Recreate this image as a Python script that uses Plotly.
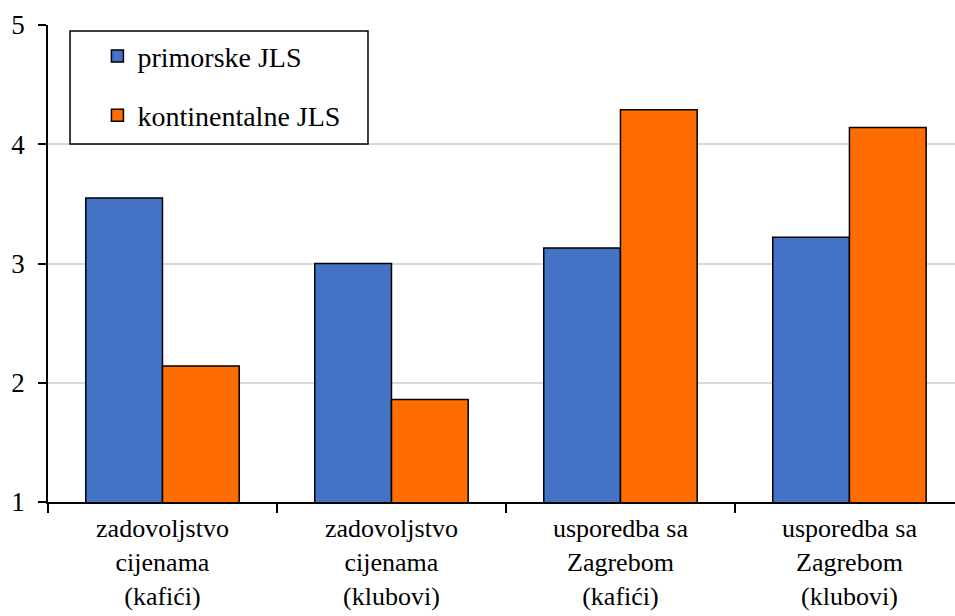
import plotly.graph_objects as go

categories = [
    "zadovoljstvo<br>cijenama<br>(kafići)",
    "zadovoljstvo<br>cijenama<br>(klubovi)",
    "usporedba sa<br>Zagrebom<br>(kafići)",
    "usporedba sa<br>Zagrebom<br>(klubovi)",
]
primorske = [3.55, 3.00, 3.13, 3.22]
kontinentalne = [2.14, 1.86, 4.29, 4.14]
y_ticks = [1, 2, 3, 4, 5]

SERIF = "Liberation Serif"
TICK_FONT = dict(family=SERIF, size=27, color="black")
CAT_FONT = dict(family=SERIF, size=26, color="black")
LEG_FONT = dict(family=SERIF, size=28, color="black")

fig = go.Figure()
fig.add_trace(go.Bar(
    x=categories, y=primorske, name="primorske JLS",
    marker=dict(color="#4472C4", line=dict(color="black", width=1.5)),
    legendgroup="a",
))
fig.add_trace(go.Bar(
    x=categories, y=kontinentalne, name="kontinentalne JLS",
    marker=dict(color="#FF6D00", line=dict(color="black", width=1.5)),
    legendgroup="b",
))

# legend frame
fig.add_shape(
    type="rect", xref="paper", yref="paper",
    x0=0.0243, x1=0.3528, y0=0.7505, y1=0.9874,
    line=dict(color="black", width=1.5), fillcolor="white", layer="above",
)

fig.update_layout(
    width=955, height=616,
    margin=dict(l=48, r=0, t=25, b=114, autoexpand=False),
    paper_bgcolor="white", plot_bgcolor="white",
    font=TICK_FONT,
    barmode="group", bargap=0.33, bargroupgap=0,
    showlegend=True,
    legend=dict(
        x=0.0545, y=0.987, xanchor="left", yanchor="top",
        borderwidth=0, bgcolor="rgba(0,0,0,0)",
        font=LEG_FONT, tracegroupgap=20, traceorder="grouped",
        itemclick=False,
    ),
    xaxis=dict(
        type="category", range=[-0.5, 3.461], automargin=False,
        showline=True, linecolor="black", linewidth=1.5,
        ticks="outside", tickson="boundaries", ticklen=9, tickwidth=1.5, tickcolor="black",
        showgrid=False, tickfont=CAT_FONT, ticklabelstandoff=2,
    ),
    yaxis=dict(
        range=[1, 5], tickvals=y_ticks, automargin=False,
        showline=True, linecolor="black", linewidth=1.5,
        ticks="outside", ticklen=8, tickwidth=1.5, tickcolor="black",
        showgrid=True, gridcolor="#d9d9d9", gridwidth=1.5,
        zeroline=False, tickfont=TICK_FONT, ticklabelstandoff=8,
    ),
)

fig.write_html("out.html")
